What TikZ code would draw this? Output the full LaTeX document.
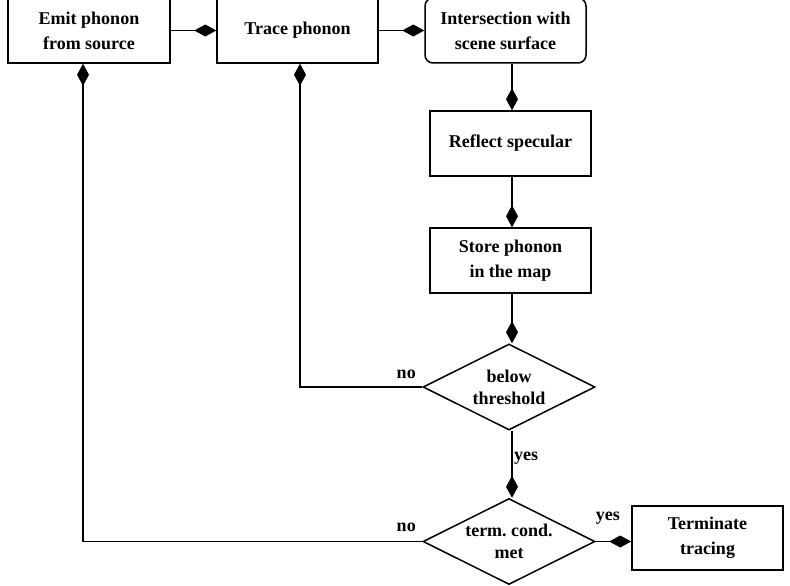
\documentclass[tikz,border=0pt]{standalone}
\usepackage{fontspec}
\setmainfont{Liberation Serif}
\usetikzlibrary{arrows.meta,shapes.geometric}
\frenchspacing

\tikzset{
    box/.style={draw, line width=1.5pt, minimum width=161pt, minimum height=65pt, inner sep=2pt, align=center, font=\fontsize{18}{25}\selectfont\bfseries},
    decision/.style={draw, diamond, aspect=2, line width=1.5pt, minimum width=172pt, minimum height=86pt, inner sep=0pt, align=center, font=\fontsize{18}{22}\selectfont\bfseries},
    arr/.style={-{Diamond[length=22pt,width=12pt]}, line width=1.5pt},
    lbl/.style={font=\fontsize{18}{21}\selectfont\bfseries}
}

\begin{document}
\begin{tikzpicture}[x=1pt,y=-1pt]
    \useasboundingbox (0,0) rectangle (790,586); % same frame as the reference

    \node[box, minimum width=162pt] (emit) at (89,30.5) {Emit phonon\\from source};
    \node[box] (trace) at (297.5,30.5) {Trace phonon};
    \node[box, rounded corners=8pt] (inter) at (505.5,30.5) {Intersection with\\scene surface};
    \node[box] (reflect) at (510.5,143.5) {Reflect specular};
    \node[box] (store) at (510.5,260.5) {Store phonon\\in the map};
    \node[decision] (below) at (509,387) {below\\threshold};
    \node[decision] (term) at (509,541.5) {term. cond.\\met};
    \node[box, minimum width=151pt, minimum height=64pt] (stop) at (707.5,538) {Terminate\\tracing};

    \coordinate (col) at ([xshift=6.5pt]inter.south); % main column line
    \coordinate (emitin) at ([xshift=-6pt]emit.south);
    \coordinate (tracein) at ([xshift=2.5pt]trace.south);

    \draw[arr] (emit) -- (trace);
    \draw[arr] (trace) -- (inter);
    \draw[arr] (col) -- (col |- reflect.north);
    \draw[arr] (col |- reflect.south) -- (col |- store.north);
    \draw[arr] (col |- store.south) -- (col |- below.north);
    \draw[arr] (col |- below.south) -- (col |- term.north);
    \draw[arr] (term.east) -- (term.east -| stop.west);

    \draw[arr] (below.west) -| (tracein);
    \draw[arr] (term.west) -| (emitin);

    \node[lbl] (no1) at ([xshift=-16pt,yshift=13pt]below.west) {no};
    \node[lbl] (yes1) at ([xshift=17pt,yshift=-27pt]below.south) {yes};
    \node[lbl] (yes2) at ([xshift=12pt,yshift=23pt]term.east) {yes};
    \node[lbl] (no2) at ([xshift=-16pt,yshift=14pt]term.west) {no};
\end{tikzpicture}
\end{document}
